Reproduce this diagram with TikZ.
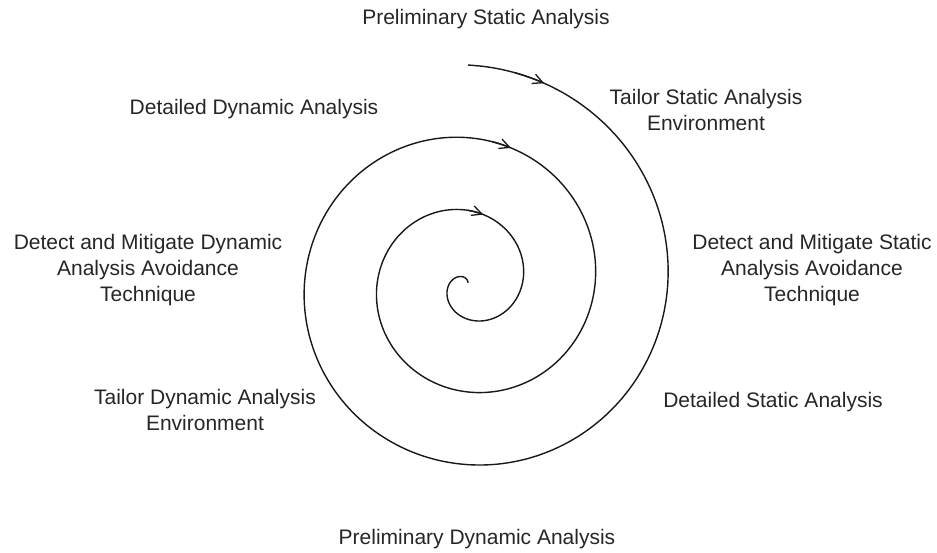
\documentclass[tikz,border=0pt]{standalone}
\usepackage{fontspec}
\setmainfont{Liberation Sans}
\usetikzlibrary{arrows.meta}
\tikzset{barbtip/.tip={Straight Barb[length=10pt,width=10pt,line width=1.3pt]}}
\begin{document}
\begin{tikzpicture}[x=1pt,y=-1pt,
  lbl/.style={font=\fontsize{21}{26}\selectfont, align=center, inner sep=0pt, text=black!85},
  spiralline/.style={line width=1.4pt, draw=black!90}]
\useasboundingbox (0,0) rectangle (937,553);
\fill[white] (0,0) rectangle (937,553);
\draw[spiralline]
  plot[smooth, domain=0:3, samples=241, variable=\t]
  ({468+(218-72.67*\t)*cos(90-360*\t)}, {283-(218-72.67*\t)*sin(90-360*\t)});
\foreach \a/\b in {0.035/0.058, 1.027/1.049, 2.0/2.035}{
  \draw[spiralline, -{barbtip}]
    plot[domain=\a:\b, samples=4, variable=\t]
    ({468+(218-72.67*\t)*cos(90-360*\t)}, {283-(218-72.67*\t)*sin(90-360*\t)});
}
\node[lbl] (psa) at (486,19) {Preliminary Static Analysis};
\node[lbl] (tsa) at (706,110) {Tailor Static Analysis\\Environment};
\node[lbl] (dda) at (254,109) {Detailed Dynamic Analysis};
\node[lbl] (dmd) at (148,270) {Detect and Mitigate Dynamic\\Analysis Avoidance\\Technique};
\node[lbl] (dms) at (812,270) {Detect and Mitigate Static\\Analysis Avoidance\\Technique};
\node[lbl] (tda) at (205,410) {Tailor Dynamic Analysis\\Environment};
\node[lbl] (dsa) at (773,402) {Detailed Static Analysis};
\node[lbl] (pda) at (477,539) {Preliminary Dynamic Analysis};
\end{tikzpicture}
\end{document}
